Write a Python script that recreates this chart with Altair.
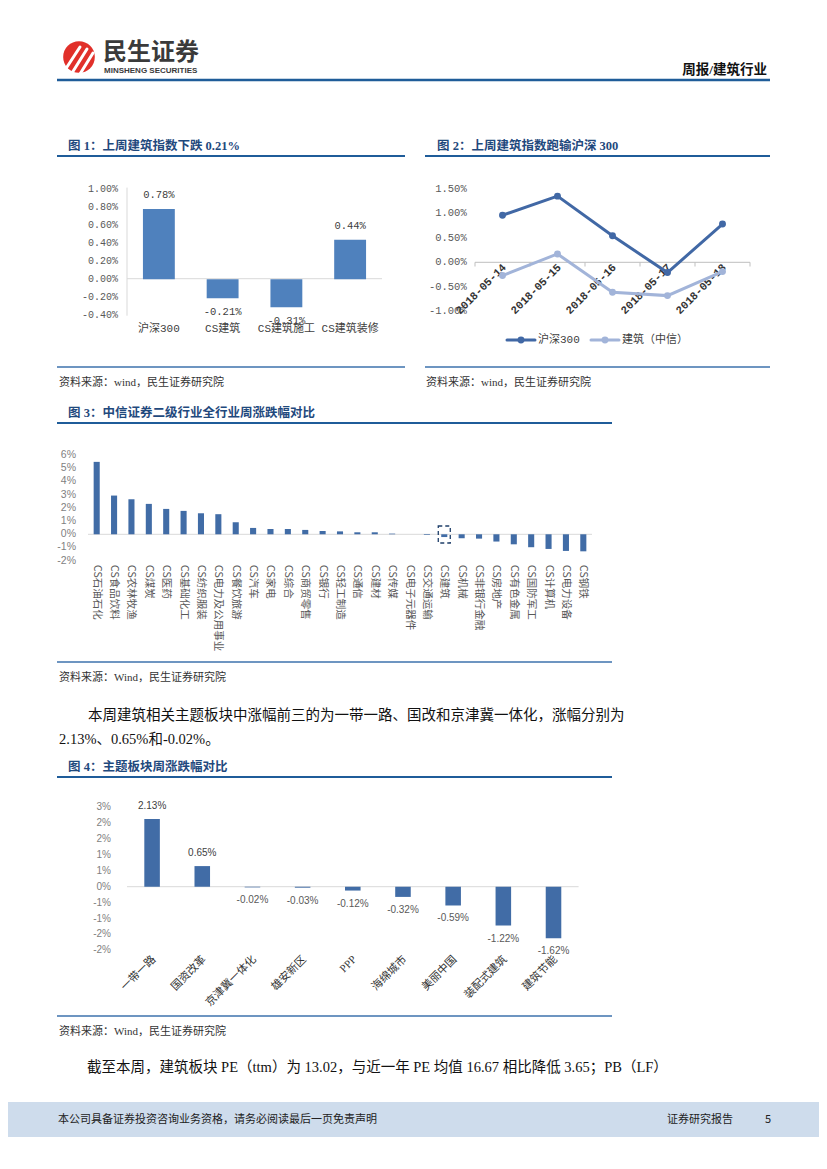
import altair as alt
import pandas as pd

# ---------------- data ----------------
fig1_categories = ["沪深300", "CS建筑", "CS建筑施工", "CS建筑装修"]
fig1_values = [0.78, -0.21, -0.31, 0.44]
fig1_ticks = [1.0, 0.8, 0.6, 0.4, 0.2, 0.0, -0.2, -0.4]

fig2_dates = ["2018-05-14", "2018-05-15", "2018-05-16", "2018-05-17", "2018-05-18"]
fig2_hs300 = [0.96, 1.35, 0.54, -0.21, 0.78]
fig2_jianzhu = [-0.27, 0.17, -0.61, -0.68, -0.19]
fig2_ticks = [1.5, 1.0, 0.5, 0.0, -0.5, -1.0]
fig2_series = ["沪深300", "建筑（中信）"]

fig3_categories = ["CS石油石化", "CS食品饮料", "CS农林牧渔", "CS煤炭", "CS医药", "CS基础化工",
                   "CS纺织服装", "CS电力及公用事业", "CS餐饮旅游", "CS汽车", "CS家电", "CS综合",
                   "CS商贸零售", "CS银行", "CS轻工制造", "CS通信", "CS建材", "CS传媒", "CS电子元器件",
                   "CS交通运输", "CS建筑", "CS机械", "CS非银行金融", "CS房地产", "CS有色金属",
                   "CS国防军工", "CS计算机", "CS电力设备", "CS钢铁"]
fig3_values = [5.48, 2.93, 2.65, 2.30, 1.92, 1.77, 1.59, 1.52, 0.91, 0.48, 0.40, 0.40, 0.33,
               0.25, 0.22, 0.15, 0.15, 0.05, 0.0, -0.05, -0.21, -0.30, -0.33, -0.55, -0.76,
               -0.98, -1.11, -1.26, -1.29]
fig3_ticks = [6, 5, 4, 3, 2, 1, 0, -1, -2]
fig3_tick_labels = ["6%", "5%", "4%", "3%", "2%", "1%", "0%", "-1%", "-2%"]
fig3_highlight = "CS建筑"

fig4_categories = ["一带一路", "国资改革", "京津冀一体化", "雄安新区", "PPP", "海绵城市",
                   "美丽中国", "装配式建筑", "建筑节能"]
fig4_values = [2.13, 0.65, -0.02, -0.03, -0.12, -0.32, -0.59, -1.22, -1.62]
fig4_ticks = [2.5, 2.0, 1.5, 1.0, 0.5, 0.0, -0.5, -1.0, -1.5, -2.0]
fig4_tick_labels = ["3%", "2%", "2%", "1%", "1%", "0%", "-1%", "-1%", "-2%", "-2%"]

# ---------------- styling ----------------
OFF = 8  # page margin


def px(v):
    return v - OFF


SANS = "Noto Sans CJK SC"
SERIF = "Liberation Serif, Noto Sans CJK SC"
MONO = "Liberation Mono, Noto Sans CJK SC"
LSANS = "Liberation Sans, Noto Sans CJK SC"
TITLE_BLUE = "#1f497d"
LINE_BLUE = "#1f5c99"
ONE = pd.DataFrame({"k": [0]})

layers = []


def text(x, y, s, size=12, color="#222222", font=SERIF, weight="normal", align="left",
         baseline="middle"):
    layers.append(
        alt.Chart(ONE).mark_text(align=align, baseline=baseline, fontSize=size, font=font,
                                 fontWeight=weight, color=color)
        .encode(x=alt.value(px(x)), y=alt.value(px(y)), text=alt.value(s)))


def hline(x1, x2, y, color=LINE_BLUE, width=2.0):
    layers.append(
        alt.Chart(ONE).mark_rule(color=color, strokeWidth=width)
        .encode(x=alt.value(px(x1)), x2=alt.value(px(x2)), y=alt.value(px(y))))


def seg(x1, y1, x2, y2, color, width):
    layers.append(
        alt.Chart(ONE).mark_rule(color=color, strokeWidth=width, strokeCap="round")
        .encode(x=alt.value(px(x1)), x2=alt.value(px(x2)), y=alt.value(px(y1)), y2=alt.value(px(y2))))


# ---------------- page header ----------------
layers.append(alt.Chart(ONE).mark_point(filled=True, shape="circle", size=1000, color="#e1302a", opacity=1)
              .encode(x=alt.value(px(79)), y=alt.value(px(57))))
seg(65, 70, 80, 47, "#ffffff", 3)
seg(72, 73, 87, 49, "#ffffff", 3)
seg(80, 74, 93, 53, "#ffffff", 3)
text(103, 53, "民生证券", size=24, color="#3a3a3a", font=SANS, weight="bold")
text(104, 71, "MINSHENG SECURITIES", size=8, color="#3a3a3a", font=LSANS, weight="bold")
text(767, 70, "周报/建筑行业", size=13.5, color="#111111", font=SERIF, weight="bold", align="right")
hline(57, 770, 80, LINE_BLUE, 2.5)

# ---------------- figure titles / frames ----------------
text(68, 146, "图 1：上周建筑指数下跌 0.21%", size=12.5, color=TITLE_BLUE, weight="bold")
hline(57, 405, 156)
text(437, 146, "图 2：上周建筑指数跑输沪深 300", size=12.5, color=TITLE_BLUE, weight="bold")
hline(425, 770, 156)
hline(57, 405, 367, "#3d72ad", 1.5)
hline(425, 770, 367, "#3d72ad", 1.5)
text(59, 383, "资料来源：wind，民生证券研究院", size=11, color="#333333")
text(426, 383, "资料来源：wind，民生证券研究院", size=11, color="#333333")

text(68, 413, "图 3：中信证券二级行业全行业周涨跌幅对比", size=12.5, color=TITLE_BLUE, weight="bold")
hline(57, 612, 423)
hline(57, 612, 662, "#3d72ad", 1.5)
text(59, 678, "资料来源：Wind，民生证券研究院", size=11, color="#333333")

text(88, 716, "本周建筑相关主题板块中涨幅前三的为一带一路、国改和京津冀一体化，涨幅分别为",
     size=14.5, color="#111111")
text(59, 740, "2.13%、0.65%和-0.02%。", size=14.5, color="#111111")

text(68, 767, "图 4：主题板块周涨跌幅对比", size=12.5, color=TITLE_BLUE, weight="bold")
hline(57, 612, 777)
hline(57, 612, 1016, "#3d72ad", 1.5)
text(59, 1032, "资料来源：Wind，民生证券研究院", size=11, color="#333333")

text(87, 1068, "截至本周，建筑板块 PE（ttm）为 13.02，与近一年 PE 均值 16.67 相比降低 3.65；PB（LF）",
     size=14.5, color="#111111")

# footer band
layers.append(alt.Chart(ONE).mark_rect(color="#cedcec")
              .encode(x=alt.value(0), x2=alt.value(811), y=alt.value(px(1102)), y2=alt.value(px(1137))))
text(58, 1120, "本公司具备证券投资咨询业务资格，请务必阅读最后一页免责声明", size=11, color="#222222", font=SANS)
text(667, 1120, "证券研究报告", size=11, color="#222222", font=SANS)
text(765, 1120, "5", size=11, color="#222222", font=SANS)


# ---------------- helpers for scales ----------------
def band(domain, x0, x1, pad_inner):
    return alt.Scale(type="band", domain=domain, range=[px(x0), px(x1)],
                     paddingInner=pad_inner, paddingOuter=pad_inner / 2)


def point(domain, x0, x1):
    return alt.Scale(type="point", domain=domain, range=[px(x0), px(x1)], padding=0.5)


def lin(domain, bottom, top):
    return alt.Scale(domain=domain, range=[px(bottom), px(top)], nice=False)


# ---------------- figure 1 ----------------
d1 = pd.DataFrame({"cat": fig1_categories, "val": fig1_values})
d1["lab"] = [f"{v:.2f}%" for v in fig1_values]
t1 = pd.DataFrame({"t": fig1_ticks})
t1["lab"] = [f"{v:.2f}%" for v in fig1_ticks]
X1, X1b = (127, 382), None
y1 = lin([-0.4, 1.0], 315.3, 189.3)
xb1 = band(fig1_categories, 127, 382, 0.5)
xp1 = point(fig1_categories, 127, 382)

seg(127, 188, 127, 315.3, "#d9d9d9", 1)
hline(127, 382, 278.7, "#d9d9d9", 1)
layers.append(alt.Chart(d1).mark_bar(color="#4f81bd")
              .encode(x=alt.X("cat:N", scale=xb1, axis=None), y=alt.Y("val:Q", scale=y1, axis=None)))
layers.append(alt.Chart(d1).transform_filter("datum.val >= 0")
              .mark_text(dy=-14, fontSize=10.5, font=MONO, color="#404040")
              .encode(x=alt.X("cat:N", scale=xp1, axis=None), y=alt.Y("val:Q", scale=y1, axis=None),
                      text="lab:N"))
layers.append(alt.Chart(d1).transform_filter("datum.val < 0")
              .mark_text(dy=14, fontSize=10.5, font=MONO, color="#404040")
              .encode(x=alt.X("cat:N", scale=xp1, axis=None), y=alt.Y("val:Q", scale=y1, axis=None),
                      text="lab:N"))
layers.append(alt.Chart(t1).mark_text(align="right", fontSize=10, font=MONO, color="#595959")
              .encode(y=alt.Y("t:Q", scale=y1, axis=None), x=alt.value(px(118)), text="lab:N"))
layers.append(alt.Chart(d1).mark_text(fontSize=11, font=MONO, color="#404040")
              .encode(x=alt.X("cat:N", scale=xp1, axis=None), y=alt.value(px(329)), text="cat:N"))

# ---------------- figure 2 ----------------
d2 = pd.DataFrame({
    "date": fig2_dates * 2,
    "val": fig2_hs300 + fig2_jianzhu,
    "series": [fig2_series[0]] * len(fig2_dates) + [fig2_series[1]] * len(fig2_dates),
})
t2 = pd.DataFrame({"t": fig2_ticks})
t2["lab"] = [f"{v:.2f}%" for v in fig2_ticks]
b2 = pd.DataFrame({"b": list(range(len(fig2_dates) + 1))})
y2 = lin([-1.0, 1.5], 311.3, 188.8)
xp2 = point(fig2_dates, 475, 750)
DARK, LIGHT = "#4168a5", "#a2b4d9"

hline(475, 750, 262.3, "#bfbfbf", 1)
layers.append(alt.Chart(b2).mark_rule(color="#bfbfbf", strokeWidth=1)
              .encode(x=alt.X("b:Q", scale=alt.Scale(domain=[0, len(fig2_dates)], range=[px(475), px(750)]),
                              axis=None),
                      y=alt.value(px(262.3)), y2=alt.value(px(266.5))))
layers.append(alt.Chart(t2).mark_text(align="right", fontSize=10.5, font=MONO, color="#595959")
              .encode(y=alt.Y("t:Q", scale=y2, axis=None), x=alt.value(px(466.7)), text="lab:N"))
layers.append(alt.Chart(pd.DataFrame({"date": fig2_dates}))
              .mark_text(angle=315, align="right", baseline="middle", dx=3, fontSize=11, font=MONO,
                         color="#333333", fontWeight="bold")
              .encode(x=alt.X("date:N", scale=xp2, axis=None), y=alt.value(px(268)), text="date:N"))
for name, col in [(fig2_series[1], LIGHT), (fig2_series[0], DARK)]:
    sub = alt.Chart(d2).transform_filter(alt.datum.series == name)
    layers.append(sub.mark_line(color=col, strokeWidth=3)
                  .encode(x=alt.X("date:N", scale=xp2, axis=None), y=alt.Y("val:Q", scale=y2, axis=None)))
    layers.append(sub.mark_point(color=col, filled=True, size=48, opacity=1)
                  .encode(x=alt.X("date:N", scale=xp2, axis=None), y=alt.Y("val:Q", scale=y2, axis=None)))
# legend
for (x0, name, col) in [(507, fig2_series[0], DARK), (591, fig2_series[1], LIGHT)]:
    seg(x0, 340, x0 + 28, 340, col, 3)
    layers.append(alt.Chart(ONE).mark_point(color=col, filled=True, size=48, opacity=1)
                  .encode(x=alt.value(px(x0 + 14)), y=alt.value(px(340))))
    text(x0 + 31, 340, name, size=11, color="#404040", font=MONO)

# ---------------- figure 3 ----------------
d3 = pd.DataFrame({"cat": fig3_categories, "val": fig3_values})
t3 = pd.DataFrame({"t": fig3_ticks, "lab": fig3_tick_labels})
y3 = lin([-2, 6], 560.7, 455.0)
xb3 = band(fig3_categories, 88, 592, 0.65)
xp3 = point(fig3_categories, 88, 592)
BAR3 = "#416ca6"

hline(88, 592, 534.3, "#d9d9d9", 1)
layers.append(alt.Chart(d3).mark_bar(color=BAR3)
              .encode(x=alt.X("cat:N", scale=xb3, axis=None), y=alt.Y("val:Q", scale=y3, axis=None)))
layers.append(alt.Chart(d3).transform_filter(alt.datum.cat == fig3_highlight)
              .mark_bar(width=12, filled=False, stroke="#1f3f6a", strokeWidth=1.3, strokeDash=[4, 3])
              .encode(x=alt.X("cat:N", scale=xp3, axis=None), y=alt.value(px(526)), y2=alt.value(px(543))))
layers.append(alt.Chart(t3).mark_text(align="right", fontSize=10.5, font=LSANS, color="#7f7f7f")
              .encode(y=alt.Y("t:Q", scale=y3, axis=None), x=alt.value(px(76)), text="lab:N"))
layers.append(alt.Chart(d3).mark_text(angle=90, align="left", baseline="middle", fontSize=10.5, font=SANS,
                                      color="#595959")
              .encode(x=alt.X("cat:N", scale=xp3, axis=None), y=alt.value(px(565)), text="cat:N"))

# ---------------- figure 4 ----------------
d4 = pd.DataFrame({"cat": fig4_categories, "val": fig4_values})
d4["lab"] = [f"{v:.2f}%" for v in fig4_values]
t4 = pd.DataFrame({"t": fig4_ticks, "lab": fig4_tick_labels})
y4 = lin([-2.0, 2.5], 950.3, 807.3)
xb4 = band(fig4_categories, 127, 578.6, 0.69)
xp4 = point(fig4_categories, 127, 578.6)
BAR4 = "#416ca6"

hline(127, 578.6, 886.7, "#d9d9d9", 1)
layers.append(alt.Chart(d4).mark_bar(color=BAR4)
              .encode(x=alt.X("cat:N", scale=xb4, axis=None), y=alt.Y("val:Q", scale=y4, axis=None)))
layers.append(alt.Chart(d4).transform_filter("datum.val >= 0")
              .mark_text(dy=-13, fontSize=10, font=LSANS, color="#404040")
              .encode(x=alt.X("cat:N", scale=xp4, axis=None), y=alt.Y("val:Q", scale=y4, axis=None),
                      text="lab:N"))
layers.append(alt.Chart(d4).transform_filter("datum.val < 0")
              .mark_text(dy=13, fontSize=10, font=LSANS, color="#595959")
              .encode(x=alt.X("cat:N", scale=xp4, axis=None), y=alt.Y("val:Q", scale=y4, axis=None),
                      text="lab:N"))
layers.append(alt.Chart(t4).mark_text(align="right", fontSize=10, font=LSANS, color="#7f7f7f")
              .encode(y=alt.Y("t:Q", scale=y4, axis=None), x=alt.value(px(111)), text="lab:N"))
layers.append(alt.Chart(d4).mark_text(angle=315, align="right", baseline="middle", dx=3, fontSize=11,
                                      font=SERIF, color="#333333")
              .encode(x=alt.X("cat:N", scale=xp4, axis=None), y=alt.value(px(960)), text="cat:N"))

# ---------------- assemble ----------------
chart = (
    alt.layer(*layers)
    .resolve_scale(x="independent", y="independent")
    .properties(width=811, height=1153, padding=0,
                autosize=alt.AutoSizeParams(type="none"), background="#ffffff")
    .configure_view(stroke=None)
)

chart.save("out.html", embed_options={"renderer": "svg", "actions": False})
